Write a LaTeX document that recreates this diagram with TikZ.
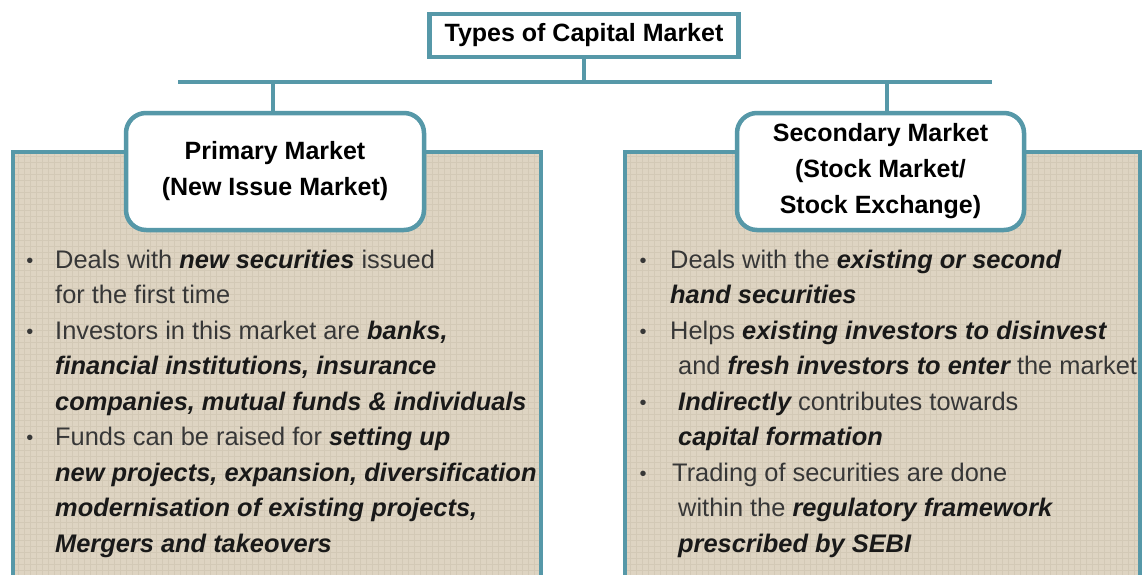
\documentclass[tikz,border=0pt]{standalone}
\usepackage{fontspec}
\setmainfont{Liberation Sans}
\definecolor{teal1}{RGB}{86,152,168}
\definecolor{tan1}{RGB}{222,212,194}
\definecolor{tanline}{RGB}{205,194,174}
\definecolor{txtgrey}{RGB}{55,55,55}
\definecolor{txtdark}{RGB}{25,25,25}
\newcommand{\bi}[1]{{\color{txtdark}\bfseries\itshape #1}}
\tikzset{
  conn/.style={draw=teal1, line width=4.5pt},
  titlebox/.style={draw=teal1, line width=4.5pt, fill=white, minimum width=309pt, minimum height=43pt, inner sep=0pt, font=\fontsize{25}{30}\selectfont\bfseries},
  headbox/.style={draw=teal1, line width=4.5pt, fill=white, rounded corners=20pt, inner sep=0pt, align=center, font=\fontsize{25}{36}\selectfont\bfseries},
  panel/.style={draw=teal1, line width=4.5pt, fill=tan1},
  txt/.style={anchor=base west, inner sep=0pt, text=txtgrey, font=\fontsize{25.4}{30}\selectfont},
  bul/.style={anchor=base, inner sep=0pt, text=txtgrey, font=\fontsize{20}{24}\selectfont}
}
\begin{document}
\begin{tikzpicture}[x=1pt,y=-1pt]
\useasboundingbox (0,0) rectangle (1147,574);
\clip (0,0) rectangle (1147,574);
\fill[white] (0,0) rectangle (1147,574);
% panels
\draw[panel] (13,152) rectangle (541,590);
\draw[panel] (625,152) rectangle (1140,590);
% linen texture
\begin{scope}
\clip (15,154) rectangle (539,588);
\draw[tanline, line width=0.6pt, opacity=0.6, xstep=6pt, ystep=6pt] (13,152) grid (541,590);
\end{scope}
\begin{scope}
\clip (627,154) rectangle (1138,588);
\draw[tanline, line width=0.6pt, opacity=0.6, xstep=6pt, ystep=6pt] (625,152) grid (1140,590);
\end{scope}
% connectors
\node[titlebox] (title) at (584,35.5) {Types of Capital Market};
\coordinate (hl) at (178,82);
\coordinate (hr) at (992,82);
\coordinate (hm) at (584,82);
\coordinate (hp) at (273,82);
\coordinate (hs) at (887,82);
\draw[conn] (hl) -- (hr);
\draw[conn] (title.south) -- (hm);
% head boxes
\node[headbox, minimum width=298pt, minimum height=117pt] (prim) at (275,171.5) {Primary Market\\(New Issue Market)};
\node[headbox, minimum width=287pt, minimum height=117pt] (sec) at (880.5,171.5) {Secondary Market\\(Stock Market/\\Stock Exchange)};
\draw[conn] (hp) -- (hp |- prim.north);
\draw[conn] (hs) -- (hs |- sec.north);
% left text
\node[bul] (lb1) at (30,267) {•};
\node[txt] (l1) at (55,268) {Deals with \bi{new securities} issued};
\node[txt] (l2) at (55,303.5) {for the first time};
\node[bul] (lb2) at (30,338) {•};
\node[txt] (l3) at (55,339) {Investors in this market are \bi{banks,}};
\node[txt] (l4) at (55,374.5) {\bi{financial institutions, insurance}};
\node[txt] (l5) at (55,410) {\bi{companies, mutual funds \& individuals}};
\node[bul] (lb3) at (30,444.5) {•};
\node[txt] (l6) at (55,445.5) {Funds can be raised for \bi{setting up}};
\node[txt] (l7) at (55,481) {\bi{new projects, expansion, diversification}};
\node[txt] (l8) at (55,516.5) {\bi{modernisation of existing projects,}};
\node[txt] (l9) at (55,552) {\bi{Mergers and takeovers}};
% right text
\node[bul] (rb1) at (643,267) {•};
\node[txt] (r1) at (670,268) {Deals with the \bi{existing or second}};
\node[txt] (r2) at (670,303.5) {\bi{hand securities}};
\node[bul] (rb2) at (643,338) {•};
\node[txt] (r3) at (670,339) {Helps \bi{existing investors to disinvest}};
\node[txt] (r4) at (678,374.5) {and \bi{fresh investors to enter} the market};
\node[bul] (rb3) at (643,409) {•};
\node[txt] (r5) at (678,410) {\bi{Indirectly} contributes towards};
\node[txt] (r6) at (678,445.5) {\bi{capital formation}};
\node[bul] (rb4) at (643,480) {•};
\node[txt] (r7) at (672,481) {Trading of securities are done};
\node[txt] (r8) at (678,516.5) {within the \bi{regulatory framework}};
\node[txt] (r9) at (678,552) {\bi{prescribed by SEBI}};
\end{tikzpicture}
\end{document}
